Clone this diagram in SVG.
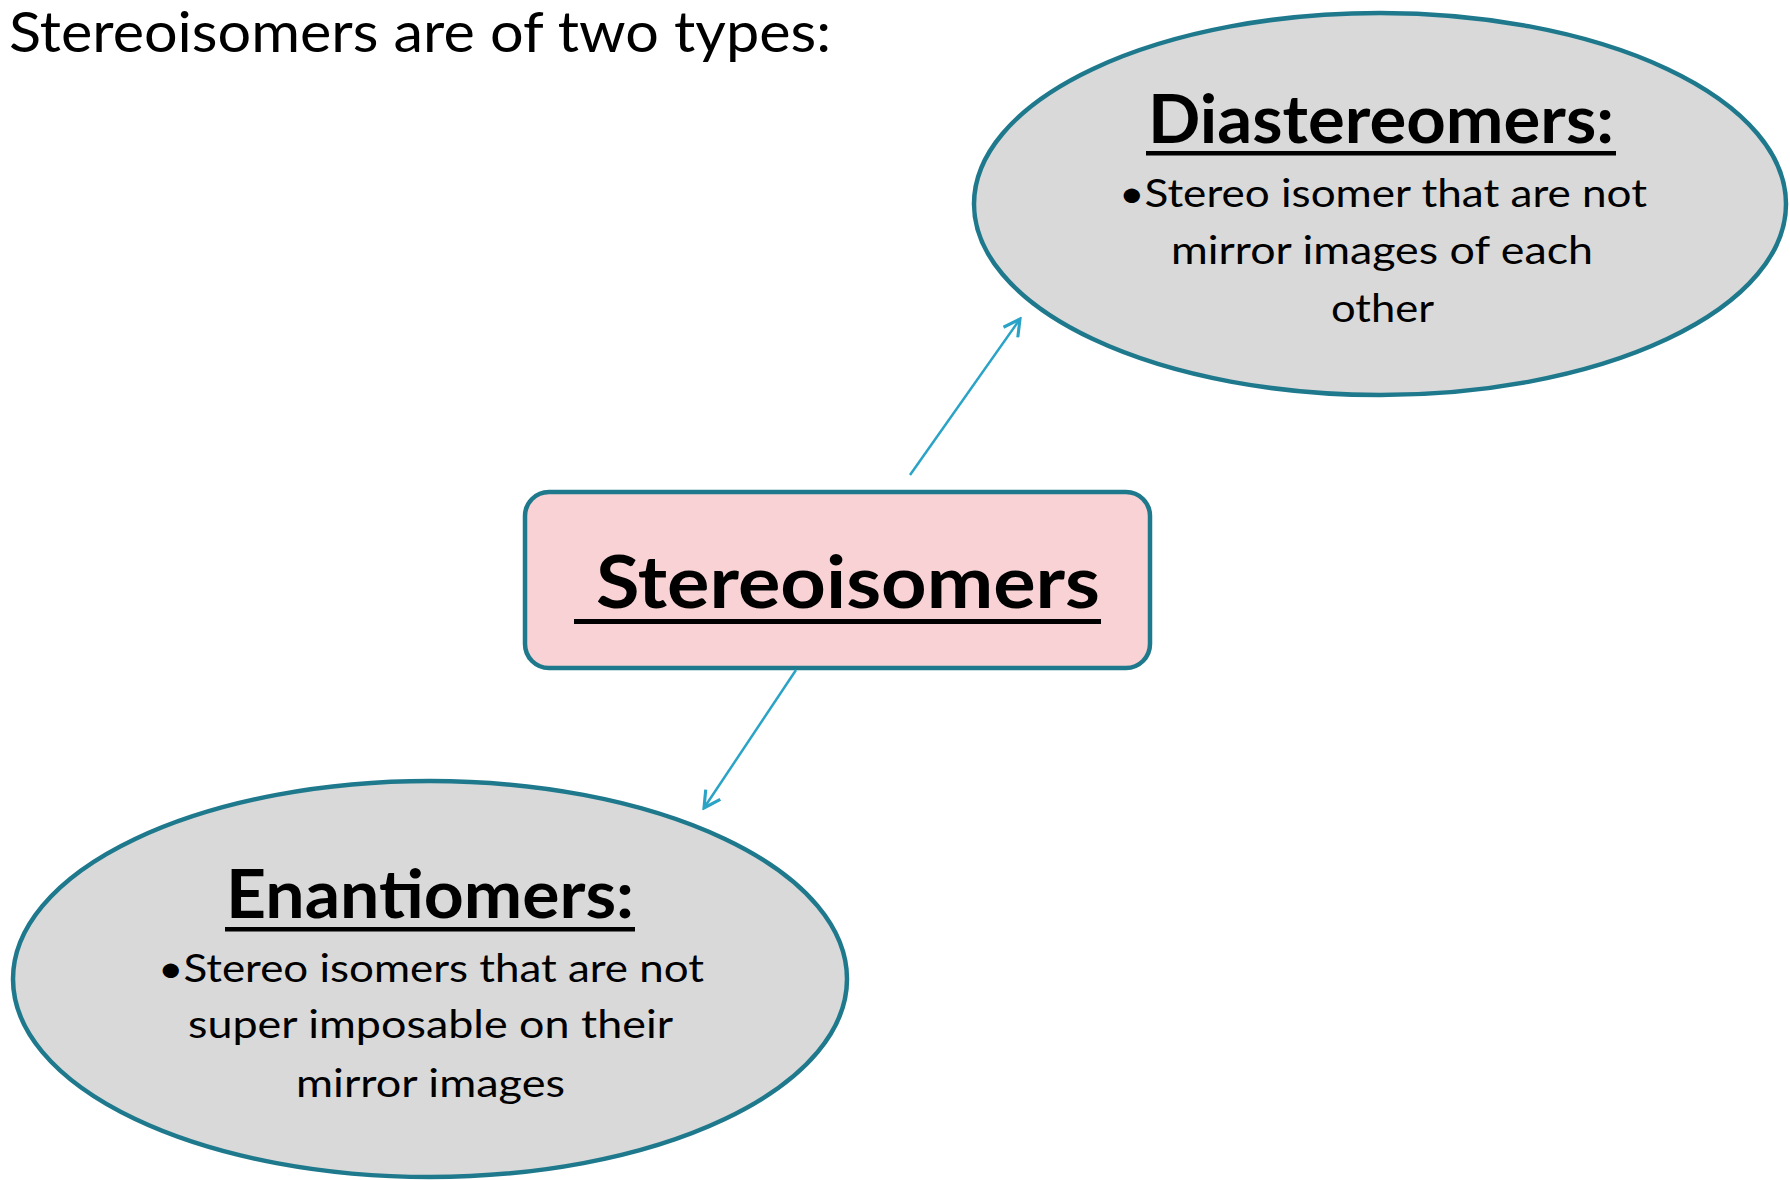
<svg xmlns="http://www.w3.org/2000/svg" width="1790" height="1180" viewBox="0 0 1790 1180">
<style>
text { font-family: Lato, "Open Sans", "Liberation Sans", sans-serif; fill: #000; }
.title { font-size: 56px; }
.head { font-size: 66px; font-weight: bold; }
.body { font-size: 38px; }
.oval { fill: #d9d9d9; stroke: #1f798d; stroke-width: 4.5; }
.box { fill: #f8d2d4; stroke: #1f798d; stroke-width: 4.5; }
.ul { fill: #000; }
.conn { stroke: #2aa3c6; stroke-width: 2.5; fill: none; }
</style>
<defs>
<marker id="arr" markerUnits="userSpaceOnUse" markerWidth="20" markerHeight="20" refX="14" refY="8" orient="auto" viewBox="0 0 16 16">
<path d="M1,1 L14,8 L1,15" fill="none" stroke="#2aa3c6" stroke-width="2.5"/>
</marker>
</defs>
<rect width="1790" height="1180" fill="#fff"/>
<text class="title" x="9" y="52" textLength="822" lengthAdjust="spacingAndGlyphs">Stereoisomers are of two types:</text>

<g id="diastereomers">
<ellipse class="oval" cx="1380" cy="204" rx="406" ry="191"/>
<text class="head" x="1148" y="143" textLength="466" lengthAdjust="spacingAndGlyphs">Diastereomers:</text>
<rect class="ul" x="1146" y="151" width="470" height="4.5"/>
<text class="body" x="1119" y="207" textLength="528" lengthAdjust="spacingAndGlyphs">•Stereo isomer that are not</text>
<text class="body" x="1171" y="264" textLength="422" lengthAdjust="spacingAndGlyphs">mirror images of each</text>
<text class="body" x="1331" y="322" textLength="103" lengthAdjust="spacingAndGlyphs">other</text>
</g>

<g id="stereoisomers">
<rect class="box" x="525" y="492" width="625" height="176" rx="24"/>
<text class="head" x="596" y="608" textLength="504" lengthAdjust="spacingAndGlyphs" style="font-size:72px">Stereoisomers</text>
<rect class="ul" x="574" y="619" width="527" height="5"/>
</g>

<g id="enantiomers">
<ellipse class="oval" cx="430" cy="979" rx="417" ry="198"/>
<text class="head" x="226" y="918" textLength="408" lengthAdjust="spacingAndGlyphs">Enantiomers:</text>
<rect class="ul" x="225" y="927" width="410" height="4.5"/>
<text class="body" x="158" y="982" textLength="546" lengthAdjust="spacingAndGlyphs">•Stereo isomers that are not</text>
<text class="body" x="188" y="1038" textLength="485" lengthAdjust="spacingAndGlyphs">super imposable on their</text>
<text class="body" x="296" y="1097" textLength="269" lengthAdjust="spacingAndGlyphs">mirror images</text>
</g>

<g id="connectors">
<line class="conn" x1="910" y1="475" x2="1020" y2="319" marker-end="url(#arr)"/>
<line class="conn" x1="796" y1="670" x2="704" y2="808" marker-end="url(#arr)"/>
</g>
</svg>
